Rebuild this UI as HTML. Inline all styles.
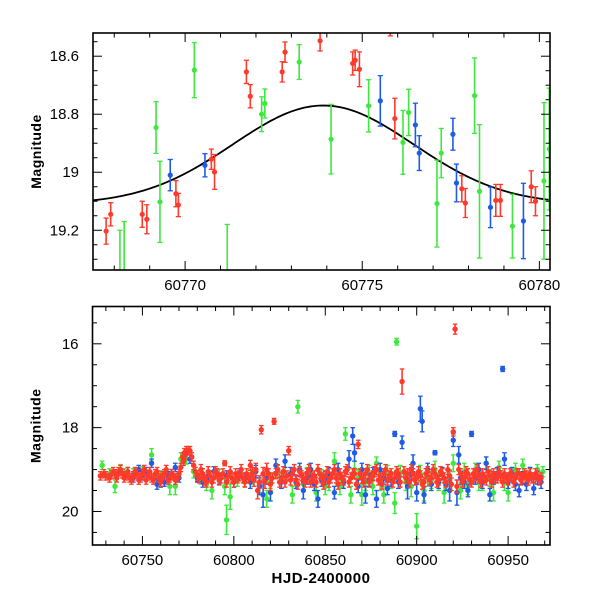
<!DOCTYPE html>
<html><head><meta charset="utf-8"><style>
html,body{margin:0;padding:0;background:#fff}
svg{display:block;font-family:"Liberation Sans",sans-serif}
</style></head><body>
<svg id="c" width="600" height="600" viewBox="0 0 600 600"></svg>
<script>
// ---- top panel data: [HJD-2400000, magnitude, error]
const topRed=[[60767.77,19.203,0.045],[60767.90,19.145,0.04],[60768.79,19.145,0.045],[60768.92,19.162,0.05],[60769.74,19.074,0.045],[60769.81,19.113,0.04],[60770.74,18.955,0.035],[60770.83,18.999,0.06],[60771.73,18.654,0.04],[60771.84,18.738,0.04],[60772.74,18.654,0.035],[60772.82,18.586,0.035],[60773.81,18.547,0.035],[60775.79,18.50,0.03],[60774.73,18.625,0.04],[60774.80,18.614,0.035],[60774.92,18.645,0.06],[60775.92,18.815,0.07],[60777.81,19.057,0.045],[60777.91,19.106,0.05],[60778.77,19.097,0.055],[60778.90,19.097,0.055],[60779.77,19.05,0.055],[60779.89,19.10,0.05]];
const topGreen=[[60769.18,18.846,0.089],[60769.29,19.102,0.14],[60770.26,18.648,0.095],[60772.16,18.80,0.06],[60772.25,18.763,0.05],[60773.22,18.62,0.06],[60774.12,18.886,0.12],[60768.16,19.42,0.22],[60768.28,19.40,0.23],[60771.19,19.40,0.22],[60775.18,18.771,0.09],[60776.15,18.897,0.11],[60776.31,18.794,0.08],[60777.11,19.108,0.15],[60777.23,18.934,0.085],[60778.17,18.736,0.13],[60778.31,19.066,0.23],[60779.24,19.186,0.11],[60780.13,19.03,0.27],[60780.28,18.92,0.21]];
const topBlue=[[60769.58,19.01,0.054],[60770.56,18.976,0.04],[60775.51,18.754,0.087],[60776.50,18.837,0.075],[60776.61,18.934,0.06],[60777.56,18.869,0.055],[60777.66,19.037,0.065],[60778.62,19.121,0.07],[60779.55,19.168,0.13]];
const modelPeakT=[60773.9];
const modelParams=[19.11,0.34,2.55]; // baseline, amplitude, sigma
const topXTicks=[60770,60775,60780];
const topYTicks=[18.6,18.8,19,19.2];
// ---- bottom panel data
const botRed=[[60727,19.15,0.1],[60729,19.1,0.1],[60730,19.15,0.1],[60732,19.2,0.1],[60733,19.12,0.1],[60734,19.05,0.1],[60735,19.1,0.1],[60736,19.2,0.1],[60737,19.05,0.1],[60738,19.0,0.1],[60739,19.1,0.1],[60740,19.2,0.1],[60741,19.15,0.1],[60742,19.05,0.1],[60743,19.2,0.1],[60744,19.25,0.1],[60745,19.15,0.1],[60746,19.05,0.1],[60747,19.1,0.1],[60748,19.25,0.1],[60749,19.2,0.1],[60750,19.1,0.1],[60751,19.0,0.1],[60752,19.25,0.1],[60753,19.15,0.1],[60754,19.05,0.1],[60755,19.2,0.1],[60756,19.25,0.1],[60757,19.1,0.1],[60758,19.05,0.1],[60759,19.2,0.1],[60760,19.3,0.1],[60761,19.15,0.1],[60762,19.1,0.1],[60763,19.0,0.1],[60764,19.25,0.1],[60765,19.2,0.1],[60766,19.1,0.1],[60767,19.15,0.1],[60768,19.25,0.1],[60769,19.2,0.1],[60770,19.1,0.1],[60771,18.95,0.1],[60772,18.7,0.1],[60772.5,18.8,0.1],[60773,18.6,0.1],[60773.5,18.65,0.1],[60774,18.55,0.1],[60775,18.55,0.1],[60776,18.55,0.1],[60777,18.7,0.1],[60778,18.9,0.1],[60779,19.05,0.1],[60780,19.15,0.12],[60781,19.2,0.12],[60782,19.0,0.12],[60783,19.1,0.12],[60784,19.25,0.12],[60785,19.3,0.12],[60786,19.05,0.12],[60787,19.15,0.12],[60788,19.3,0.12],[60789,19.2,0.12],[60790,19.05,0.12],[60791,19.1,0.12],[60792,19.25,0.12],[60793,19.2,0.12],[60794,19.1,0.12],[60795,18.85,0.06],[60796,19.3,0.12],[60797,19.15,0.12],[60798,19.05,0.12],[60799,19.2,0.12],[60800,19.3,0.12],[60801,19.1,0.12],[60802,19.2,0.12],[60803,19.15,0.12],[60804,19.0,0.12],[60805,19.2,0.12],[60806,19.3,0.12],[60807,19.1,0.12],[60808,19.2,0.12],[60809,18.9,0.12],[60810,19.1,0.15],[60811,19.25,0.15],[60812,19.0,0.15],[60813,19.5,0.2],[60814,19.3,0.15],[60815,18.05,0.1],[60816,19.1,0.15],[60817,19.3,0.15],[60818,19.0,0.15],[60819,19.1,0.12],[60820,19.35,0.15],[60821,19.2,0.12],[60822,17.85,0.07],[60823,19.1,0.12],[60824,19.0,0.12],[60825,19.3,0.12],[60826,19.2,0.12],[60827,19.05,0.12],[60828,19.3,0.12],[60829,19.15,0.12],[60830,18.55,0.1],[60831,19.25,0.12],[60832,19.1,0.12],[60833,19.0,0.12],[60834,19.25,0.12],[60835,19.35,0.12],[60836,19.05,0.12],[60837,19.15,0.12],[60838,19.2,0.12],[60839,19.3,0.12],[60840,19.1,0.12],[60841,19.0,0.12],[60842,19.3,0.12],[60843,19.2,0.12],[60844,19.15,0.12],[60845,19.3,0.12],[60846,19.0,0.12],[60847,19.1,0.12],[60848,19.2,0.12],[60849,19.35,0.12],[60850,19.15,0.12],[60851,19.05,0.12],[60852,19.3,0.12],[60853,19.2,0.12],[60854,19.1,0.12],[60855,19.0,0.12],[60856,19.2,0.12],[60857,19.35,0.12],[60858,19.1,0.12],[60859,19.2,0.12],[60860,19.25,0.12],[60861,19.05,0.12],[60862,19.0,0.12],[60863,19.3,0.12],[60864,19.2,0.12],[60865,19.1,0.12],[60866,19.1,0.12],[60867,19.35,0.12],[60868,18.4,0.1],[60869,19.1,0.12],[60870,19.2,0.12],[60871,19.3,0.12],[60872,19.1,0.12],[60873,19.0,0.12],[60874,19.3,0.12],[60875,19.2,0.12],[60876,19.15,0.12],[60877,19.05,0.12],[60878,19.0,0.12],[60879,19.25,0.12],[60880,19.2,0.12],[60881,19.35,0.12],[60882,19.1,0.12],[60883,19.0,0.12],[60884,19.25,0.12],[60885,19.15,0.12],[60886,19.1,0.12],[60887,19.3,0.12],[60888,19.2,0.12],[60889,19.05,0.12],[60890,19.1,0.12],[60891,19.3,0.12],[60892,16.9,0.3],[60893,19.05,0.12],[60894,19.2,0.12],[60895,19.1,0.12],[60896,19.3,0.12],[60897,19.0,0.12],[60898,19.1,0.12],[60899,19.25,0.12],[60900,19.2,0.12],[60901,19.05,0.12],[60902,19.15,0.12],[60903,19.35,0.12],[60904,19.3,0.12],[60905,19.1,0.12],[60906,19.05,0.12],[60907,19.25,0.12],[60908,19.2,0.12],[60909,19.0,0.12],[60910,19.1,0.12],[60911,19.3,0.12],[60912,19.25,0.12],[60913,19.05,0.12],[60914,19.1,0.12],[60915,19.2,0.12],[60916,19.3,0.12],[60917,19.0,0.12],[60918,19.15,0.12],[60919,19.35,0.15],[60920,18.1,0.1],[60921,15.65,0.12],[60922,19.4,0.15],[60923,19.0,0.12],[60924,19.1,0.12],[60925,19.3,0.12],[60926,19.2,0.12],[60927,19.05,0.12],[60928,19.1,0.12],[60929,19.25,0.12],[60930,19.3,0.12],[60931,19.1,0.12],[60932,19.15,0.12],[60933,19.0,0.12],[60934,19.2,0.12],[60935,19.3,0.12],[60936,19.1,0.12],[60937,19.2,0.12],[60938,19.25,0.12],[60939,19.05,0.12],[60940,19.15,0.12],[60941,19.3,0.12],[60942,19.1,0.12],[60943,19.2,0.12],[60944,19.2,0.12],[60945,19.05,0.12],[60946,19.15,0.12],[60947,19.3,0.12],[60948,19.1,0.12],[60949,19.2,0.12],[60950,19.25,0.12],[60951,19.1,0.12],[60952,19.15,0.12],[60953,19.3,0.12],[60954,19.2,0.12],[60955,19.1,0.12],[60956,19.1,0.12],[60957,19.25,0.12],[60958,19.2,0.12],[60959,19.1,0.12],[60960,19.15,0.12],[60961,19.25,0.12],[60962,19.1,0.12],[60963,19.2,0.12],[60964,19.2,0.12],[60965,19.1,0.12],[60966,19.15,0.12],[60967,19.25,0.12],[60968,19.2,0.12]];
const botBlue=[[60742,19.05,0.1],[60745,19.2,0.1],[60748,19.0,0.1],[60750,19.15,0.1],[60752,19.05,0.1],[60755,18.85,0.1],[60758,19.35,0.12],[60760,19.3,0.12],[60762,19.3,0.1],[60764,19.15,0.1],[60766,19.1,0.1],[60768,18.95,0.1],[60770,19.2,0.1],[60776,18.75,0.1],[60780,19.2,0.1],[60783,19.3,0.12],[60786,19.15,0.1],[60789,19.05,0.12],[60792,19.25,0.1],[60796,19.15,0.12],[60800,19.3,0.12],[60803,19.1,0.12],[60806,19.2,0.12],[60809,19.3,0.15],[60812,19.05,0.15],[60814,19.4,0.2],[60816,19.6,0.3],[60818,19.2,0.15],[60820,19.55,0.2],[60823,18.9,0.15],[60826,19.3,0.15],[60828,18.8,0.15],[60831,19.1,0.15],[60834,19.3,0.15],[60836,19.0,0.15],[60838,19.5,0.2],[60840,19.2,0.15],[60842,19.0,0.15],[60844,19.35,0.15],[60846,19.7,0.2],[60848,19.25,0.15],[60850,19.2,0.15],[60852,19.1,0.15],[60855,19.55,0.15],[60857,19.0,0.15],[60860,19.3,0.15],[60863,18.75,0.2],[60865,18.2,0.2],[60866,18.6,0.2],[60868,19.4,0.15],[60870,19.0,0.15],[60872,19.6,0.2],[60874,19.25,0.15],[60876,19.1,0.15],[60878,19.7,0.2],[60880,19.0,0.15],[60882,19.2,0.15],[60884,19.45,0.15],[60886,19.25,0.15],[60888,18.15,0.06],[60890,19.3,0.15],[60892,18.35,0.15],[60895,19.4,0.3],[60897,19.1,0.15],[60898,18.85,0.2],[60900,19.55,0.2],[60902,17.55,0.3],[60903,17.85,0.25],[60904,19.6,0.2],[60906,19.0,0.15],[60908,19.35,0.15],[60910,18.6,0.05],[60912,19.3,0.15],[60914,19.1,0.15],[60916,19.35,0.15],[60918,19.5,0.25],[60920,18.3,0.15],[60922,19.55,0.3],[60923,18.65,0.2],[60924,19.2,0.15],[60926,19.3,0.15],[60928,19.5,0.15],[60930,18.15,0.06],[60932,19.2,0.15],[60934,19.0,0.15],[60936,19.3,0.15],[60938,18.85,0.15],[60940,19.6,0.15],[60942,19.2,0.15],[60944,19.1,0.15],[60947,16.6,0.06],[60948,18.75,0.15],[60950,19.3,0.15],[60952,19.1,0.15],[60954,19.35,0.15],[60956,19.5,0.15],[60958,19.2,0.15],[60960,19.35,0.15],[60962,19.1,0.15],[60964,19.45,0.15],[60966,19.2,0.15],[60968,19.3,0.15]];
const botGreen=[[60728,18.9,0.1],[60732,19.1,0.12],[60735,19.4,0.15],[60738,19.0,0.12],[60740,19.1,0.12],[60745,19.1,0.12],[60750,19.05,0.12],[60755,18.65,0.15],[60758,19.2,0.12],[60760,19.15,0.12],[60765,19.4,0.2],[60768,19.4,0.2],[60771,18.75,0.15],[60774,18.75,0.12],[60778,19.05,0.15],[60782,19.2,0.15],[60785,19.35,0.15],[60788,19.5,0.2],[60792,19.15,0.15],[60795,19.4,0.2],[60796,20.2,0.35],[60798,19.65,0.3],[60802,19.25,0.15],[60806,19.25,0.15],[60810,19.2,0.15],[60814,19.35,0.2],[60818,19.7,0.2],[60820,19.3,0.15],[60824,19.05,0.15],[60828,19.1,0.15],[60832,19.6,0.2],[60835,17.5,0.15],[60838,19.35,0.15],[60840,19.1,0.15],[60842,19.2,0.15],[60845,19.55,0.2],[60848,19.15,0.15],[60850,19.4,0.2],[60852,19.3,0.2],[60855,18.8,0.2],[60858,19.4,0.2],[60861,18.15,0.15],[60864,19.6,0.2],[60866,19.0,0.2],[60868,19.2,0.2],[60870,19.6,0.25],[60872,19.3,0.2],[60874,19.1,0.2],[60876,19.4,0.2],[60878,18.85,0.15],[60880,19.3,0.2],[60882,19.6,0.2],[60884,19.1,0.2],[60886,19.25,0.2],[60888,19.8,0.25],[60889,15.95,0.08],[60891,19.1,0.2],[60894,19.3,0.2],[60897,19.4,0.25],[60900,20.35,0.3],[60902,19.1,0.2],[60904,19.5,0.25],[60906,19.2,0.2],[60908,19.25,0.2],[60910,19.0,0.2],[60912,19.3,0.2],[60915,19.55,0.25],[60918,19.2,0.2],[60920,18.85,0.2],[60924,19.5,0.2],[60926,19.05,0.2],[60928,19.4,0.2],[60932,19.0,0.15],[60934,19.3,0.2],[60936,19.3,0.2],[60938,18.85,0.15],[60940,19.2,0.2],[60942,19.55,0.2],[60945,18.95,0.15],[60948,19.3,0.2],[60950,19.55,0.2],[60952,19.1,0.15],[60954,19.0,0.15],[60958,18.9,0.15],[60960,19.2,0.15],[60962,19.1,0.15],[60966,19.0,0.12],[60969,19.05,0.12]];
const botXTicks=[60750,60800,60850,60900,60950];
const botYTicks=[16,18,20];

const NS="http://www.w3.org/2000/svg";
const svg=document.getElementById('c');
const RED="#ff3a2a",GREEN="#3ee83e",BLUE="#1e5be8";
function mk(tag,attrs,parent){const e=document.createElementNS(NS,tag);for(const k in attrs)e.setAttribute(k,attrs[k]);(parent||svg).appendChild(e);return e;}
const defs=mk('defs',{});

function panel(cfg){
  const {id,L,R,T,B,x0,x1,y0,y1}=cfg;
  const X=v=>L+(v-x0)/(x1-x0)*(R-L);
  const Y=v=>T+(v-y0)/(y1-y0)*(B-T);
  const cp=mk('clipPath',{id:'clip-'+id},defs);
  mk('rect',{x:L,y:T,width:R-L,height:B-T},cp);
  const g=mk('g',{'clip-path':'url(#clip-'+id+')'});
  
  
  return {X,Y,g,...cfg};
}
function drawSeries(p,data,color,name,cap){
  const sg=mk('g',{},p.g);
  
  
  data.forEach(d=>{
    const x=p.X(d[0]),y=p.Y(d[1]),ya=p.Y(d[1]-d[2]),yb=p.Y(d[1]+d[2]);
    const pg=mk('g',{},sg);
    
    
    mk('line',{x1:x,x2:x,y1:ya,y2:yb,stroke:color,'stroke-width':1.6},pg);
    mk('line',{x1:x-cap,x2:x+cap,y1:ya,y2:ya,stroke:color,'stroke-width':1.3},pg);
    mk('line',{x1:x-cap,x2:x+cap,y1:yb,y2:yb,stroke:color,'stroke-width':1.3},pg);
    mk('circle',{cx:x,cy:y,r:p.r,fill:color},pg);
  });
}
function axes(p,xt,yt,xMinor,yMinor,xfmt,yfmt){
  const {L,R,T,B,X,Y}=p;
  const ag=mk('g',{});
  
  
  const tk=(x1,y1,x2,y2)=>mk('line',{x1,y1,x2,y2,stroke:'#000','stroke-width':1},ag);
  for(let v=Math.ceil(p.x0/xMinor)*xMinor;v<=p.x1;v+=xMinor){
    const x=X(v);const major=xt.some(t=>Math.abs(t-v)<1e-6);const len=major?9:4.5;
    tk(x,B,x,B-len);tk(x,T,x,T+len);
  }
  const ylo=Math.min(p.y0,p.y1),yhi=Math.max(p.y0,p.y1);
  for(let v=Math.ceil(ylo/yMinor-1e-6)*yMinor;v<=yhi;v+=yMinor){
    const y=Y(v);const major=yt.some(t=>Math.abs(t-v)<1e-6);const len=major?9:4.5;
    tk(L,y,L+len,y);tk(R,y,R-len,y);
  }
  xt.forEach(v=>{const t=mk('text',{x:X(v),y:B+20,'text-anchor':'middle','font-size':15,fill:'#000'},ag);t.textContent=xfmt(v);});
  yt.forEach(v=>{const t=mk('text',{x:L-14,y:Y(v)+5,'text-anchor':'end','font-size':15,fill:'#000'},ag);t.textContent=yfmt(v);});
  const fr=mk('rect',{x:L,y:T,width:R-L,height:B-T,fill:'none',stroke:'#000','stroke-width':1.6},ag);
  
  
  const yl=mk('text',{x:0,y:0,transform:`translate(${L-52},${(T+B)/2}) rotate(-90)`,'text-anchor':'middle','font-size':14,'font-weight':'bold','letter-spacing':'0.5',fill:'#000'},ag);
  yl.textContent='Magnitude';
  
  
}

// top panel
const P1=panel({id:'zoom-panel',L:93,R:550,T:33,B:270,x0:60767.4,x1:60780.3,y0:18.52,y1:19.337,r:2.6});
let dpath='';
for(let i=0;i<=200;i++){const t=P1.x0+(P1.x1-P1.x0)*i/200;const m=modelParams[0]-modelParams[1]*Math.exp(-Math.pow(t-modelPeakT[0],2)/(2*modelParams[2]*modelParams[2]));dpath+=(i?'L':'M')+P1.X(t).toFixed(2)+','+P1.Y(m).toFixed(2);}
const curve=mk('path',{d:dpath,fill:'none',stroke:'#000','stroke-width':1.8},P1.g);


drawSeries(P1,topGreen,GREEN,'green-series-zoom',2.6);
drawSeries(P1,topBlue,BLUE,'blue-series-zoom',2.6);
drawSeries(P1,topRed,RED,'red-series-zoom',2.6);
axes(P1,topXTicks,topYTicks,1,0.05,v=>String(v),v=>String(v));

// bottom panel
const P2=panel({id:'full-panel',L:92.5,R:550,T:306.5,B:545,x0:60722.7,x1:60972.9,y0:15.11,y1:20.8,r:2.7});
drawSeries(P2,botGreen,GREEN,'green-series',2.3);
drawSeries(P2,botBlue,BLUE,'blue-series',2.3);
drawSeries(P2,botRed,RED,'red-series',2.3);
axes(P2,botXTicks,botYTicks,10,0.5,v=>String(v),v=>String(v));
const xl=mk('text',{x:321,y:583,'text-anchor':'middle','font-size':15,'font-weight':'bold','letter-spacing':'0.5',fill:'#000'});
xl.textContent='HJD-2400000';


</script>
</body></html>
